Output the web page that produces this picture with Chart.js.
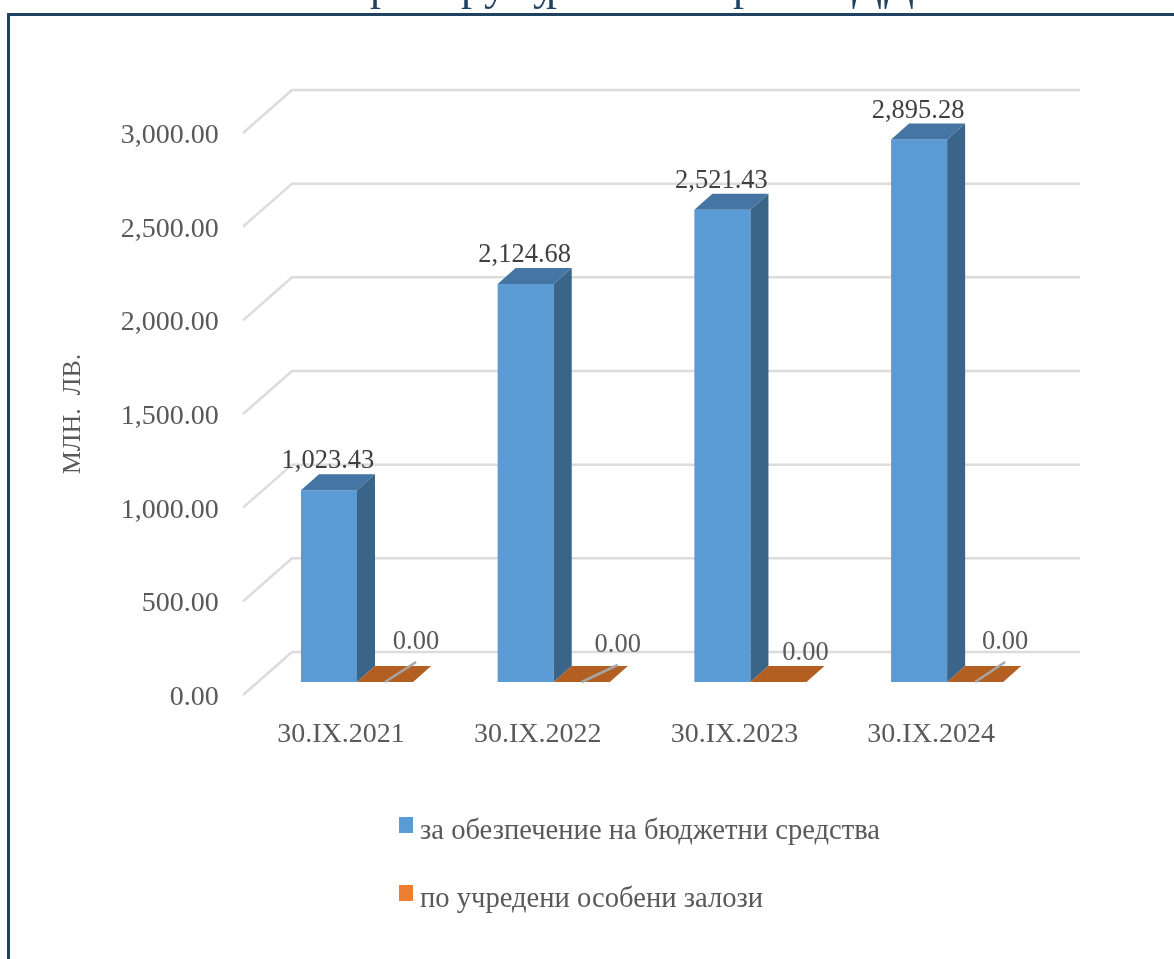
<!DOCTYPE html>
<html>
<head>
<meta charset="utf-8">
<title>млн. лв.</title>
<script src="https://cdn.jsdelivr.net/npm/chart.js@4"></script>
<style>
  html, body { margin: 0; padding: 0; background: #fff; overflow: hidden; }
  /* the original is a soft, scaled up screenshot */
  canvas { display: block; filter: blur(0.5px); }
</style>
</head>
<body>
<canvas id="guaranteesChart" width="1174" height="959"></canvas>
<script>
const categories = ["30.IX.2021", "30.IX.2022", "30.IX.2023", "30.IX.2024"];
const budgetFunds = [1023.43, 2124.68, 2521.43, 2895.28];
const specialPledges = [0, 0, 0, 0];
const seriesNames = ["за обезпечение на бюджетни средства", "по учредени особени залози"];
const axisTitle = "МЛН.  ЛВ.";

// the heading above the frame is cut off, only these letters still show
const headingLetters = [["р", 370], ["р", 461], ["у", 484], ["у", 533], ["р", 546], ["р", 733], ["Д", 852], ["Д", 884]];

// the 0.00 labels were dragged by hand in the original
const zeroLabelNudge = [[31, -42], [36, -39], [27, -31], [30, -42]];
const zeroLabelLeader = [true, true, false, true];

const SERIF = '"Liberation Serif", "Times New Roman", serif';
const GREY = "#595959";
const DEPTH_X = 18;
const DEPTH_Y = 16;
// back wall sits this far from the bar fronts, the axis labels sit on the front edge
const WALL_X = 292;
const WALL_END = 1080;
const WALL_Y = 30;
const FRONT_X = 243;
const FRONT_Y = 13;

function fmt(v) {
  return v.toLocaleString("en-US", { minimumFractionDigits: 2, maximumFractionDigits: 2 });
}

function poly(ctx, pts, color) {
  ctx.fillStyle = color;
  ctx.beginPath();
  pts.forEach((p, i) => (i ? ctx.lineTo(p[0], p[1]) : ctx.moveTo(p[0], p[1])));
  ctx.closePath();
  ctx.fill();
}

const framePlugin = {
  id: "frame",
  beforeDraw(chart) {
    const ctx = chart.ctx;
    ctx.save();
    ctx.fillStyle = "#fff";
    ctx.fillRect(0, 0, chart.width, chart.height);
    ctx.fillStyle = "#1f4263";
    ctx.fillRect(7, 13, chart.width - 7, 3);
    ctx.fillRect(7, 13, 3, chart.height - 13);
    ctx.font = "44px " + SERIF;
    ctx.textBaseline = "alphabetic";
    headingLetters.forEach(l => ctx.fillText(l[0], l[1], 0));
    ctx.restore();
  },
};

// walls of the 3D look, one bent line per tick
const wallPlugin = {
  id: "wall",
  beforeDatasetsDraw(chart) {
    const ctx = chart.ctx;
    const y = chart.scales.y;
    ctx.save();
    ctx.strokeStyle = "#dcdcdc";
    ctx.lineWidth = 2.5;
    y.ticks.forEach(t => {
      const py = y.getPixelForValue(t.value);
      ctx.beginPath();
      ctx.moveTo(FRONT_X, py + FRONT_Y);
      ctx.lineTo(WALL_X, py - WALL_Y);
      ctx.lineTo(WALL_END, py - WALL_Y);
      ctx.stroke();
    });
    ctx.restore();
  },
};

const depthPlugin = {
  id: "depth",
  afterDatasetsDraw(chart) {
    const ctx = chart.ctx;
    ctx.save();
    chart.getDatasetMeta(0).data.forEach(bar => {
      const l = bar.x - bar.width / 2;
      const r = bar.x + bar.width / 2;
      poly(ctx, [[r, bar.y], [r + DEPTH_X, bar.y - DEPTH_Y], [r + DEPTH_X, bar.base - DEPTH_Y], [r, bar.base]], "#3a6488");
      poly(ctx, [[l, bar.y], [l + DEPTH_X, bar.y - DEPTH_Y], [r + DEPTH_X, bar.y - DEPTH_Y], [r, bar.y]], "#4575a3");
    });
    chart.getDatasetMeta(1).data.forEach(bar => {
      const l = bar.x - bar.width / 2;
      const r = bar.x + bar.width / 2;
      poly(ctx, [[l, bar.y], [l + DEPTH_X, bar.y - DEPTH_Y], [r + DEPTH_X, bar.y - DEPTH_Y], [r, bar.y]], "#b35f22");
    });
    ctx.restore();
  },
};

const labelsPlugin = {
  id: "valueLabels",
  afterDraw(chart) {
    const ctx = chart.ctx;
    ctx.save();
    ctx.textAlign = "center";
    ctx.textBaseline = "middle";
    ctx.font = "26.5px " + SERIF;
    ctx.fillStyle = "#404040";
    chart.getDatasetMeta(0).data.forEach((bar, i) => {
      ctx.fillText(fmt(budgetFunds[i]), bar.x - 1, bar.y - 29);
    });
    chart.getDatasetMeta(1).data.forEach((bar, i) => {
      const lx = bar.x + zeroLabelNudge[i][0];
      const ly = bar.y + zeroLabelNudge[i][1];
      if (zeroLabelLeader[i]) {
        ctx.strokeStyle = "#a6a6a6";
        ctx.lineWidth = 2.5;
        ctx.beginPath();
        ctx.moveTo(bar.x, bar.y);
        ctx.lineTo(lx, ly + 22);
        ctx.stroke();
      }
      ctx.fillStyle = GREY;
      ctx.fillText(fmt(specialPledges[i]), lx, ly + 2);
    });

    // axis title
    ctx.save();
    ctx.translate(73, 414);
    ctx.rotate(-Math.PI / 2);
    ctx.font = "26px " + SERIF;
    ctx.fillStyle = GREY;
    ctx.fillText(axisTitle, 0, 0);
    ctx.restore();

    // two stacked rows, the built in legend would put them side by side
    ctx.textAlign = "left";
    ctx.font = "28.6px " + SERIF;
    chart.data.datasets.forEach((ds, i) => {
      const rowY = 831 + i * 68;
      ctx.fillStyle = ds.backgroundColor;
      ctx.fillRect(399, rowY - 14, 14, 16);
      ctx.fillStyle = GREY;
      ctx.fillText(ds.label, 420, rowY);
    });
    ctx.restore();
  },
};

new Chart(document.getElementById("guaranteesChart"), {
  type: "bar",
  data: {
    labels: categories,
    datasets: [
      { label: seriesNames[0], data: budgetFunds, backgroundColor: "#5b9bd5", borderWidth: 0 },
      { label: seriesNames[1], data: specialPledges, backgroundColor: "#ed7d31", borderWidth: 0 },
    ],
  },
  options: {
    responsive: false,
    animation: false,
    layout: { padding: { top: 120, right: 128.5, bottom: 0, left: 0 } },
    datasets: { bar: { categoryPercentage: 0.57, barPercentage: 1 } },
    plugins: {
      legend: { display: false },
      tooltip: { enabled: false },
    },
    scales: {
      x: {
        afterFit: s => { s.height = 277; },
        grid: { display: false, drawTicks: false },
        border: { display: false },
        ticks: {
          padding: 36,
          labelOffset: -16,
          maxRotation: 0,
          color: GREY,
          font: { family: SERIF, size: 28 },
        },
      },
      y: {
        min: 0,
        max: 3000,
        afterFit: s => { s.width = 258.65; },
        grid: { display: false, drawTicks: false },
        border: { display: false },
        ticks: {
          stepSize: 500,
          padding: 40,
          labelOffset: 15.5,
          color: GREY,
          font: { family: SERIF, size: 28 },
          callback: v => fmt(v),
        },
      },
    },
  },
  plugins: [framePlugin, wallPlugin, depthPlugin, labelsPlugin],
});
</script>
</body>
</html>
